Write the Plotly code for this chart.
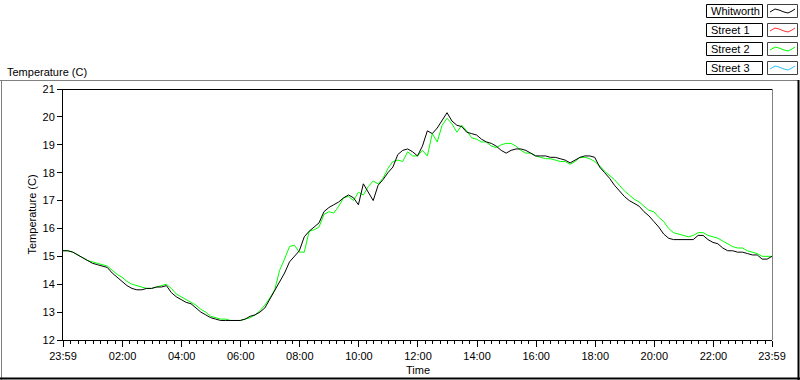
import pandas as pd
import plotly.graph_objects as go

# ---- data (10-minute samples starting 23:59 of previous day) ----
start_time = "2024-01-01 23:59"
n_points = 145
whitworth = [15.2, 15.2, 15.15, 15.05, 14.95, 14.85, 14.75, 14.7, 14.65, 14.6,
             14.4, 14.25, 14.1, 13.95, 13.85, 13.8, 13.8, 13.85, 13.85, 13.9,
             13.9, 13.95, 13.7, 13.55, 13.45, 13.35, 13.3, 13.15, 13.0, 12.9,
             12.8, 12.75, 12.7, 12.7, 12.7, 12.7, 12.7, 12.75, 12.85, 12.9,
             13.0, 13.15, 13.45, 13.75, 14.1, 14.4, 14.8, 15.0, 15.2, 15.7,
             15.9, 16.05, 16.2, 16.6, 16.75, 16.85, 16.95, 17.1, 17.2, 17.1,
             16.85, 17.6, 17.3, 17.0, 17.55, 17.75, 18.0, 18.2, 18.65, 18.8,
             18.85, 18.75, 18.6, 18.95, 19.5, 19.4, 19.6, 19.9, 20.15, 19.85,
             19.7, 19.65, 19.45, 19.4, 19.35, 19.2, 19.1, 19.05, 18.95, 18.8,
             18.7, 18.8, 18.85, 18.85, 18.8, 18.7, 18.6, 18.6, 18.6, 18.55,
             18.55, 18.5, 18.45, 18.35, 18.45, 18.55, 18.6, 18.6, 18.55, 18.2,
             18.0, 17.8, 17.55, 17.35, 17.15, 17.0, 16.9, 16.8, 16.6, 16.45,
             16.25, 16.05, 15.8, 15.65, 15.6, 15.6, 15.6, 15.6, 15.6, 15.75,
             15.75, 15.6, 15.5, 15.45, 15.3, 15.2, 15.2, 15.15, 15.15, 15.1,
             15.05, 15.05, 14.9, 14.9, 15.0]
street2 = [15.2, 15.2, 15.15, 15.05, 14.95, 14.85, 14.8, 14.75, 14.7, 14.65,
           14.5, 14.35, 14.25, 14.1, 14.0, 13.95, 13.9, 13.85, 13.85, 13.9,
           13.95, 14.0, 13.85, 13.65, 13.55, 13.45, 13.35, 13.25, 13.1, 13.0,
           12.85, 12.8, 12.75, 12.75, 12.7, 12.7, 12.7, 12.75, 12.8, 12.9,
           13.05, 13.25, 13.5, 13.8, 14.5, 14.9, 15.35, 15.4, 15.15, 15.15,
           15.9, 15.95, 16.05, 16.5, 16.6, 16.55, 16.8, 17.1, 17.15, 17.0,
           17.3, 17.2, 17.5, 17.7, 17.6, 17.8, 18.15, 18.4, 18.45, 18.4,
           18.75, 18.6, 18.6, 18.8, 18.6, 19.4, 19.1, 19.7, 19.95, 19.75,
           19.45, 19.7, 19.5, 19.25, 19.2, 19.1, 19.1, 18.95, 18.9, 19.0,
           19.05, 19.05, 18.95, 18.8, 18.7, 18.7, 18.6, 18.55, 18.5, 18.5,
           18.45, 18.4, 18.4, 18.3, 18.4, 18.55, 18.55, 18.5, 18.4, 18.25,
           18.05, 17.9, 17.75, 17.55, 17.35, 17.2, 17.05, 16.95, 16.8, 16.65,
           16.6, 16.4, 16.25, 16.0, 15.85, 15.8, 15.75, 15.7, 15.75, 15.85,
           15.85, 15.75, 15.7, 15.65, 15.55, 15.45, 15.35, 15.3, 15.3, 15.2,
           15.15, 15.1, 15.0, 15.0, 15.0]
street1 = []
street3 = []
series_names = ["Whitworth", "Street 1", "Street 2", "Street 3"]
series_colors = ["#000000", "#ff3030", "#00ff00", "#30c0ff"]
tick_times = ["2024-01-01 23:59", "2024-01-02 02:00", "2024-01-02 04:00", "2024-01-02 06:00",
              "2024-01-02 08:00", "2024-01-02 10:00", "2024-01-02 12:00", "2024-01-02 14:00",
              "2024-01-02 16:00", "2024-01-02 18:00", "2024-01-02 20:00", "2024-01-02 22:00",
              "2024-01-02 23:59"]
tick_labels = ["23:59", "02:00", "04:00", "06:00", "08:00", "10:00", "12:00", "14:00",
               "16:00", "18:00", "20:00", "22:00", "23:59"]

times = pd.date_range(start_time, periods=n_points, freq="10min")

W, H = 800, 380
def px(x): return x / W
def py(y): return 1 - y / H

FONT = "Liberation Sans, Arial, sans-serif"

fig = go.Figure()
for name, ys, col in [("Street 1", street1, series_colors[1]),
                      ("Street 3", street3, series_colors[3]),
                      ("Street 2", street2, series_colors[2]),
                      ("Whitworth", whitworth, series_colors[0])]:
    fig.add_trace(go.Scatter(x=times[:len(ys)], y=ys, mode="lines", name=name,
                             line=dict(color=col, width=1),
                             showlegend=False, hoverinfo="skip"))

x0, x1 = 63, 772
y0, y1 = 89, 340

fig.update_layout(
    width=W, height=H,
    margin=dict(l=0, r=0, t=0, b=0, autoexpand=False),
    paper_bgcolor="white", plot_bgcolor="white",
    font=dict(family=FONT, size=11, color="black"),
    xaxis=dict(domain=[px(x0), px(x1)], type="date", automargin=False,
               range=[tick_times[0], tick_times[-1]],
               tickmode="array", tickvals=tick_times, ticktext=tick_labels,
               ticks="outside", ticklen=6, tickwidth=1, tickcolor="black",
               showline=True, linecolor="black", linewidth=1,
               showgrid=False, zeroline=False,
               tickfont=dict(family=FONT, size=11, color="black"),
               minor=dict(ticks="outside", ticklen=3, tickcolor="black",
                          dtick=15 * 60 * 1000, tick0="2024-01-02 00:00",
                          showgrid=False)),
    yaxis=dict(domain=[py(y1), py(y0)], range=[12, 21], dtick=1, automargin=False,
               ticks="outside", ticklen=5, tickwidth=1, tickcolor="black",
               showline=True, linecolor="black", linewidth=1,
               showgrid=False, zeroline=False,
               tickfont=dict(family=FONT, size=11, color="black")),
)

shapes = []
def line(xa, ya, xb, yb, color, width=1):
    shapes.append(dict(type="line", xref="paper", yref="paper",
                       x0=px(xa), y0=py(ya), x1=px(xb), y1=py(yb),
                       line=dict(color=color, width=width)))

# outer panel frame
line(0, 80.5, 799, 80.5, "#808080")
line(1.5, 80, 1.5, 380, "#808080")
line(0, 378.5, 800, 378.5, "black", 2)
line(798.5, 80, 798.5, 380, "black", 2)
# plot area top / right borders
line(x0, y0 + 0.5, x1, y0 + 0.5, "black")
line(x1 + 0.5, y0, x1 + 0.5, y1, "#808080")

annotations = [
    dict(text="Temperature (C)", x=px(5), y=py(72), xref="paper", yref="paper",
         xanchor="left", yanchor="middle", showarrow=False,
         font=dict(family=FONT, size=11)),
    dict(text="Temperature (C)", x=px(31), y=py((y0 + y1) / 2), xref="paper", yref="paper",
         xanchor="center", yanchor="middle", showarrow=False, textangle=-90,
         font=dict(family=FONT, size=11)),
    dict(text="Time", x=px((x0 + x1) / 2), y=py(370), xref="paper", yref="paper",
         xanchor="center", yanchor="middle", showarrow=False,
         font=dict(family=FONT, size=11)),
]

# custom legend (LabVIEW style)
for i, (name, col) in enumerate(zip(series_names, series_colors)):
    top = 4 + i * 19
    bot = top + 13
    shapes.append(dict(type="rect", xref="paper", yref="paper",
                       x0=px(706.5), x1=px(762.5), y0=py(top + 0.5), y1=py(bot + 0.5),
                       line=dict(color="black", width=1), fillcolor="white"))
    shapes.append(dict(type="rect", xref="paper", yref="paper",
                       x0=px(767.5), x1=px(797.5), y0=py(top + 0.5), y1=py(bot + 0.5),
                       line=dict(color="#404040", width=1), fillcolor="white"))
    pts = [(770, top + 8), (775, top + 5), (779, top + 6), (784, top + 8),
           (788, top + 9), (792, top + 7), (795, top + 5)]
    path = "M " + " L ".join(f"{px(a)},{py(b)}" for a, b in pts)
    shapes.append(dict(type="path", xref="paper", yref="paper", path=path,
                       line=dict(color=col, width=1)))
    annotations.append(dict(text=name, x=px(709), y=py(top + 7), xref="paper", yref="paper",
                            xanchor="left", yanchor="middle", showarrow=False,
                            font=dict(family=FONT, size=11)))

fig.update_layout(shapes=shapes, annotations=annotations)
fig.write_html("out.html", config={"displayModeBar": False, "staticPlot": True},
               post_script="document.body.style.margin='0';document.body.style.overflow='hidden';")
